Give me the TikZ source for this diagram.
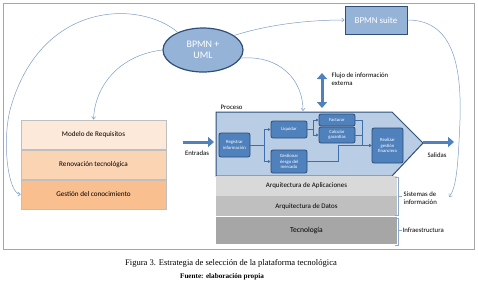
\documentclass[tikz,border=0pt]{standalone}
\usepackage{fontspec}
\setmainfont{Carlito}
\newfontfamily\capfont{Liberation Serif}
\usepackage{xcolor}
\usetikzlibrary{arrows.meta, positioning, shapes.geometric}
\definecolor{framegray}{HTML}{A6A6A6}
\definecolor{ovalblue}{HTML}{95B3D7}
\definecolor{navyline}{HTML}{2F4E7A}
\definecolor{midblue}{HTML}{4F81BD}
\definecolor{boxline}{HTML}{2C4D75}
\definecolor{proclight}{HTML}{B9CDE5}
\definecolor{thinblue}{HTML}{7C9CC5}
\definecolor{flowblue}{HTML}{3F6EAD}
\definecolor{peachA}{HTML}{FDE9D9}
\definecolor{peachB}{HTML}{FBD4B4}
\definecolor{peachC}{HTML}{FABF8F}
\definecolor{layergray}{HTML}{BFBFBF}
\definecolor{grayA}{HTML}{D9D9D9}
\definecolor{grayB}{HTML}{BFBFBF}
\definecolor{grayC}{HTML}{A6A6A6}
\definecolor{brkblue}{HTML}{8DA9CC}

\begin{document}
\begin{tikzpicture}[
      x=1bp, y=-1bp,
      oval/.style={ellipse, draw=navyline, line width=1.2bp, fill=ovalblue, text=white, minimum width=80bp, minimum height=44bp, inner sep=0pt, align=center, font=\fontsize{10}{11}\selectfont},
      suitebox/.style={draw=navyline, line width=1bp, fill=ovalblue, text=white, minimum width=62bp, minimum height=28bp, inner sep=0pt, font=\fontsize{9}{10}\selectfont},
      layer/.style={draw=layergray, line width=0.5bp, minimum width=145bp, minimum height=29.5bp, inner sep=0pt, font=\fontsize{7.2}{8}\selectfont},
      tier/.style={minimum width=181bp, minimum height=20bp, inner sep=0pt, font=\fontsize{7}{8}\selectfont},
      inbox/.style={draw=boxline, line width=0.8bp, fill=midblue, rounded corners=2bp, text=white, align=center, inner sep=0.5bp, font=\fontsize{4.7}{5.3}\selectfont},
      inflow/.style={-{Triangle[length=2.6bp, width=2.8bp]}, draw=flowblue, line width=0.8bp},
      link/.style={-{Straight Barb[length=2.5bp, width=4bp]}, draw=thinblue, line width=0.5bp},
      bigarrow/.style={-{Triangle[length=6bp, width=10bp]}, draw=midblue, line width=3bp},
      lbl/.style={inner sep=0.5bp, align=left, font=\fontsize{6.8}{7.8}\selectfont},
      brk/.style={draw=brkblue, line width=0.6bp}
    ]
      \useasboundingbox (0,0) rectangle (478,285);
      \draw[framegray, line width=0.8bp] (3,3) rectangle (474,249);

      % top: notation and tool
      \node[oval] (bpmn) at (203,50) {BPMN +\\UML};
      \node[suitebox] (suite) at (376,20) {BPMN suite};

      % left stack
      \node[layer, fill=peachA] (req) at (93.5,134.5) {Modelo de Requisitos};
      \node[layer, fill=peachB, below=0pt of req] (renov) {Renovación tecnológica};
      \node[layer, fill=peachC, below=0pt of renov] (gestc) {Gestión del conocimiento};

      % process
      \draw[draw=navyline, line width=1bp, fill=proclight] (216,112) -- (392,112) -- (423,143) -- (392,176) -- (216,176) -- cycle;
      \coordinate (procW) at (216,142);
      \coordinate (procTip) at (423,142);
      \coordinate (procTop) at (303,111);
      \node[lbl, anchor=south west] (proclbl) at (220,110) {Proceso};

      \node[inbox, minimum width=31bp, minimum height=24bp] (reg) at (234.5,145) {Registrar\\información};
      \node[inbox, minimum width=36bp, minimum height=17bp] (liq) at (289,129.5) {Liquidar};
      \node[inbox, minimum width=36bp, minimum height=23bp] (gest) at (289,161.5) {Gestionar\\riesgo del\\mercado};
      \node[inbox, minimum width=36bp, minimum height=12bp] (fact) at (337,120) {Facturar};
      \node[inbox, minimum width=36bp, minimum height=16bp] (calc) at (337,135) {Calcular\\garantías};
      \node[inbox, minimum width=31bp, minimum height=35bp] (real) at (387.5,145.5) {Realizar\\gestión\\financiera};

      \draw[inflow] (reg.east) -- ++(14,0) |- (liq.west);
      \draw[inflow] (reg.east) -- ++(14,0) |- (gest.west);
      \draw[inflow] (liq.east) -- ++(6,0) |- (fact.west);
      \draw[inflow] (liq.east) -- ++(6,0) |- (calc.west);
      \draw[inflow] (fact.east) -- ++(7,0) |- (real.west);
      \draw[inflow] (calc.east) -- ++(7,0) |- (real.west);
      \draw[inflow] (gest.east) -- ++(31,0) |- (real.west);

      % bottom stack
      \node[tier, fill=grayA] (apps) at (306.5,186) {Arquitectura de Aplicaciones};
      \node[tier, fill=grayB, below=0pt of apps] (datos) {Arquitectura de Datos};
      \node[tier, fill=grayC, minimum height=27bp, below=0pt of datos, font=\fontsize{7.6}{8}\selectfont] (tecno) {Tecnología};

      \draw[brk] (395,177) -- (398,177) -- (398,215) -- (395,215);
      \draw[brk] (398,196) -- (402,196);
      \draw[brk] (395,218) -- (398,218) -- (398,245) -- (395,245);
      \draw[brk] (398,230) -- (402,230);
      \node[lbl, anchor=west] (sislbl) at (403,198) {Sistemas de\\información};
      \node[lbl, anchor=west] (inflbl) at (402,230) {Infraestructura};

      % flows in and out
      \coordinate (entStart) at (183,142);
      \coordinate (salEnd) at (454,142);
      \coordinate (flujoTop) at (322,73);
      \coordinate (flujoBot) at (322,108);
      \draw[bigarrow, shorten >=2bp] (entStart) -- (procW);
      \draw[bigarrow] (procTip) -- (salEnd);
      \draw[bigarrow, {Triangle[length=6bp, width=10bp]}-{Triangle[length=6bp, width=10bp]}] (flujoTop) -- (flujoBot);
      \node[lbl] (entlbl) at (197,153) {Entradas};
      \node[lbl] (sallbl) at (437,155) {Salidas};
      \node[lbl, anchor=north west] (flujolbl) at (331,72) {Flujo de información\\externa};

      % thin links
      \coordinate (sisIn) at (449,197);
      \draw[link] (bpmn.145) .. controls (140,0) and (40,0) .. (10,110) .. controls (2,143) and (8,193) .. (gestc.west);
      \draw[link] (bpmn.west) .. controls (120,55) and (95,85) .. (req.north);
      \draw[link] (bpmn.25) .. controls (270,24) and (310,20) .. (suite.west);
      \draw[link] (bpmn.-12) .. controls (280,55) and (303,80) .. (procTop);
      \draw[link] (suite.east) .. controls (450,20) and (462,60) .. (460,120) .. controls (458,170) and (456,188) .. (sisIn);

      % caption
      \node[font=\capfont\fontsize{8.6}{9}\selectfont] (cap) at (231,263) {Figura 3. Estrategia de selección de la plataforma tecnológica};
      \node[font=\capfont\bfseries\fontsize{7.2}{8}\selectfont, below=0pt of cap, xshift=-9bp] (fuente) {Fuente: elaboración propia};
    \end{tikzpicture}
\end{document}
